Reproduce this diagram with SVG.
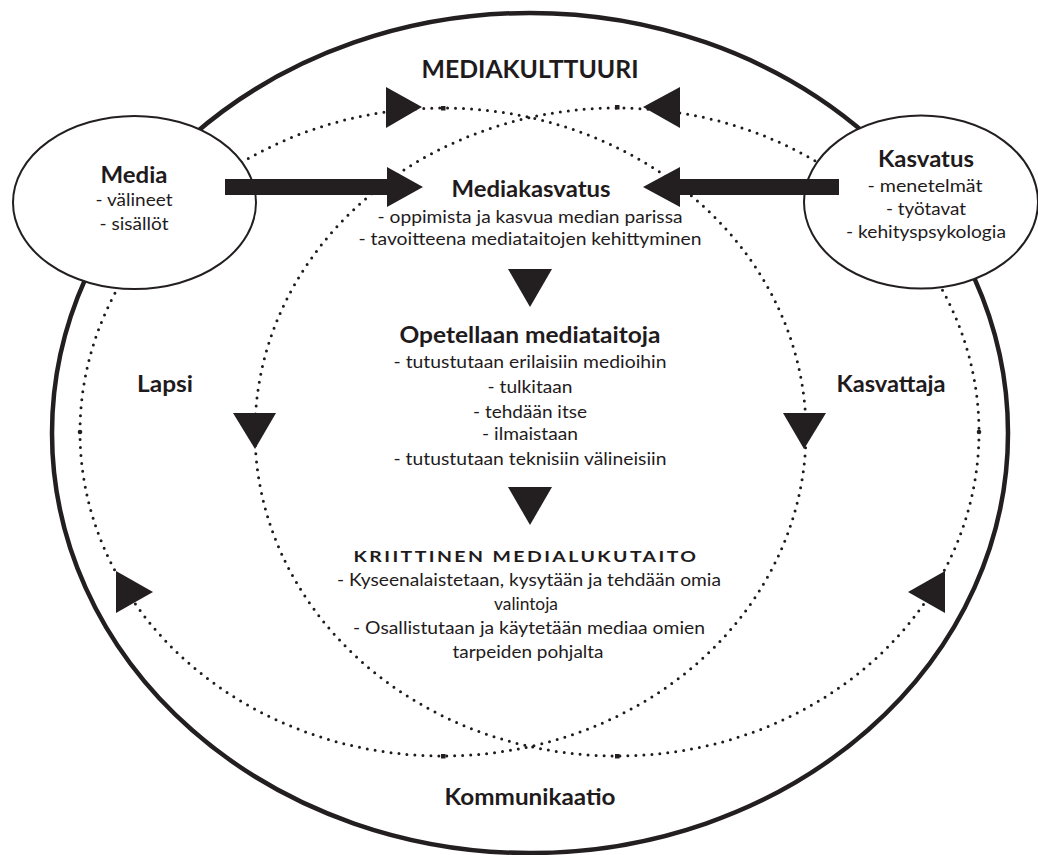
<svg xmlns="http://www.w3.org/2000/svg" width="1038" height="855" viewBox="0 0 1038 855">
<style>
text{font-family:"Lato","Open Sans","Liberation Sans",sans-serif;fill:#1f1b1d;text-anchor:middle}
.h{font-weight:bold;font-size:23px}
.t{font-weight:bold;font-size:25px}
.b{font-size:17.5px}
.k{font-weight:bold;font-size:16px;letter-spacing:2px}
.dot{fill:none;stroke:#1f1b1d;stroke-width:3;stroke-linecap:round;stroke-dasharray:0 8}
.tri{fill:#231f20}
.node{fill:#fff;stroke:#231f20;stroke-width:2}
</style>
<rect width="1038" height="855" fill="#fff"/>
<g id="outer">
<ellipse cx="530" cy="433" rx="478" ry="420" fill="none" stroke="#231f20" stroke-width="4.5"/>
</g>
<g id="loops">
<ellipse class="dot" cx="443" cy="432" rx="363" ry="324"/>
<ellipse class="dot" cx="617" cy="432" rx="362" ry="324"/>
<rect x="441" y="106" width="4.5" height="4.5" class="tri"/>
<rect x="615" y="105" width="4.5" height="4.5" class="tri"/>
<rect x="441" y="754" width="4.5" height="4.5" class="tri"/>
<rect x="615" y="754" width="4.5" height="4.5" class="tri"/>
<circle cx="80" cy="432" r="2.3" class="tri"/>
<circle cx="979" cy="432" r="2.3" class="tri"/>
<polygon class="tri" points="386,87 386,128 422,107"/>
<polygon class="tri" points="680,87 680,128 643,107"/>
<polygon class="tri" points="233,413 276,413 255,449"/>
<polygon class="tri" points="783,413 826,413 804,449"/>
<polygon class="tri" points="116,571 116,613 153,592"/>
<polygon class="tri" points="945,571 945,613 908,592"/>
</g>
<g id="node-media">
<ellipse class="node" cx="134.5" cy="202.5" rx="121.5" ry="86.5"/>
<text class="h" x="134" y="183" textLength="67" lengthAdjust="spacingAndGlyphs">Media</text>
<text class="b" x="134" y="206" textLength="77" lengthAdjust="spacingAndGlyphs">- välineet</text>
<text class="b" x="134" y="230" textLength="69" lengthAdjust="spacingAndGlyphs">- sisällöt</text>
</g>
<g id="node-kasvatus">
<ellipse class="node" cx="921" cy="202" rx="117" ry="86.5"/>
<text class="h" x="926" y="167" textLength="96" lengthAdjust="spacingAndGlyphs">Kasvatus</text>
<text class="b" x="925" y="192" textLength="115" lengthAdjust="spacingAndGlyphs">- menetelmät</text>
<text class="b" x="926" y="215" textLength="80" lengthAdjust="spacingAndGlyphs">- työtavat</text>
<text class="b" x="926" y="238" textLength="160" lengthAdjust="spacingAndGlyphs">- kehityspsykologia</text>
</g>
<g id="connectors">
<polygon class="tri" points="225,179 387,179 387,167 423,187 387,207 387,195 225,195"/>
<polygon class="tri" points="839,179 680,179 680,167 643,187 680,207 680,195 839,195"/>
<polygon class="tri" points="508,269 552,269 530,307"/>
<polygon class="tri" points="508,487 552,487 530,525"/>
</g>
<g id="node-mediakulttuuri">
<text class="t" x="530" y="78" textLength="217" lengthAdjust="spacingAndGlyphs">MEDIAKULTTUURI</text>
</g>
<g id="node-mediakasvatus">
<text class="h" x="531" y="197" textLength="159" lengthAdjust="spacingAndGlyphs">Mediakasvatus</text>
<text class="b" x="530" y="223" textLength="305" lengthAdjust="spacingAndGlyphs">- oppimista ja kasvua median parissa</text>
<text class="b" x="530" y="245" textLength="343" lengthAdjust="spacingAndGlyphs">- tavoitteena mediataitojen kehittyminen</text>
</g>
<g id="node-opetellaan">
<text class="h" x="530" y="343" textLength="261" lengthAdjust="spacingAndGlyphs">Opetellaan mediataitoja</text>
<text class="b" x="530" y="368" textLength="273" lengthAdjust="spacingAndGlyphs">- tutustutaan erilaisiin medioihin</text>
<text class="b" x="530" y="393" textLength="85" lengthAdjust="spacingAndGlyphs">- tulkitaan</text>
<text class="b" x="530" y="418" textLength="114" lengthAdjust="spacingAndGlyphs">- tehdään itse</text>
<text class="b" x="530" y="440" textLength="96" lengthAdjust="spacingAndGlyphs">- ilmaistaan</text>
<text class="b" x="530" y="465" textLength="273" lengthAdjust="spacingAndGlyphs">- tutustutaan teknisiin välineisiin</text>
</g>
<g id="node-kriittinen">
<text class="k" x="526" y="562" textLength="345" lengthAdjust="spacingAndGlyphs">KRIITTINEN MEDIALUKUTAITO</text>
<text class="b" x="529" y="586" textLength="384" lengthAdjust="spacingAndGlyphs">- Kyseenalaistetaan, kysytään ja tehdään omia</text>
<text class="b" x="526" y="610" textLength="64" lengthAdjust="spacingAndGlyphs">valintoja</text>
<text class="b" x="529" y="634" textLength="352" lengthAdjust="spacingAndGlyphs">- Osallistutaan ja käytetään mediaa omien</text>
<text class="b" x="528" y="658" textLength="151" lengthAdjust="spacingAndGlyphs">tarpeiden pohjalta</text>
</g>
<g id="node-lapsi">
<text class="h" x="165" y="392" textLength="56" lengthAdjust="spacingAndGlyphs">Lapsi</text>
</g>
<g id="node-kasvattaja">
<text class="h" x="891" y="392" textLength="109" lengthAdjust="spacingAndGlyphs">Kasvattaja</text>
</g>
<g id="node-kommunikaatio">
<text class="h" x="530" y="805" textLength="171" lengthAdjust="spacingAndGlyphs">Kommunikaatio</text>
</g>
</svg>
